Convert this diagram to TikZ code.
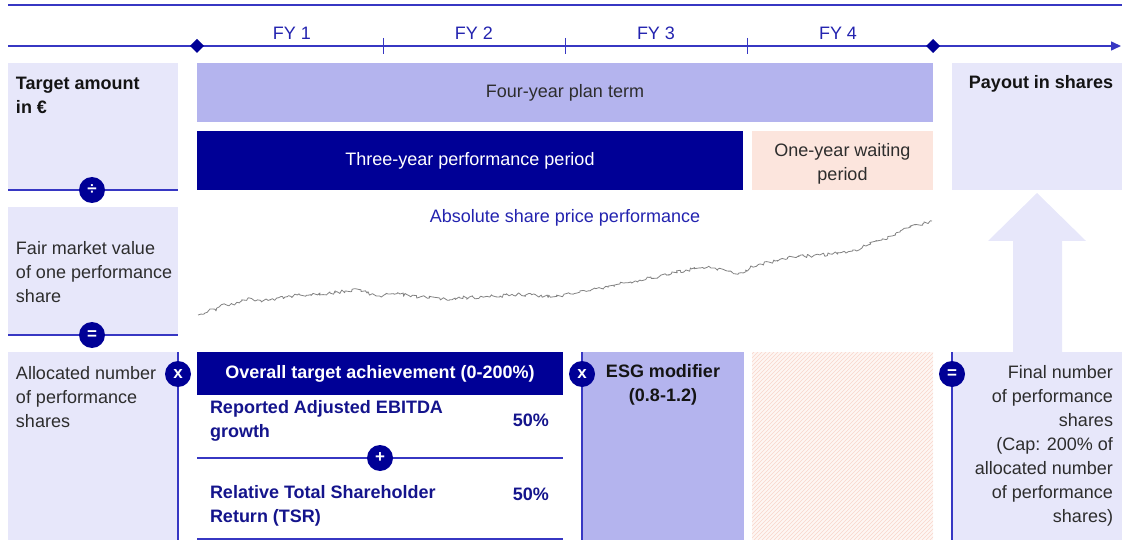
\documentclass[tikz,border=0pt]{standalone}
\usepackage{fontspec}
\setmainfont{Liberation Sans}
\usetikzlibrary{arrows.meta,shapes.geometric,decorations.pathmorphing}

\definecolor{navy}{RGB}{0,0,150}
\definecolor{rulec}{RGB}{55,55,195}
\definecolor{lavpale}{RGB}{231,231,250}
\definecolor{lavmid}{RGB}{180,180,238}
\definecolor{peach}{RGB}{252,229,221}
\definecolor{peachpale}{RGB}{254,246,243}
\definecolor{peachline}{RGB}{248,214,203}
\definecolor{fyblue}{RGB}{35,35,175}
\definecolor{txtgray}{RGB}{45,45,45}
\definecolor{txtdark}{RGB}{20,20,20}
\definecolor{kpiblue}{RGB}{20,20,140}
\definecolor{stockgray}{RGB}{130,130,130}

\begin{document}
\begin{tikzpicture}[x=1pt,y=-1pt,
  every node/.style={inner sep=0pt, outer sep=0pt, font=\fontsize{18}{24}\selectfont},
  boldtext/.style={font=\fontsize{18}{24}\selectfont\bfseries},
  rulel/.style={draw=rulec, line width=1.5pt},
  tickl/.style={draw=rulec, line width=1pt},
  fylabel/.style={text=fyblue},
  opcirc/.style={circle, fill=navy, minimum size=26pt, text=white,
    font=\fontsize{17}{17}\selectfont\bfseries},
  endmark/.style={diamond, fill=navy, minimum size=14pt},
  leftbody/.style={anchor=west, align=left, text=txtgray},
  kpi/.style={text=kpiblue, boldtext}
]
\useasboundingbox (0,0) rectangle (1122,540);

% ---------- timeline ----------
\draw[rulel] (8,5) -- (1122,5);
\coordinate (tlstart) at (8,46);
\coordinate (tlend) at (1121,46);
\draw[rulel, -{Triangle[length=10pt,width=9pt]}] (tlstart) -- (tlend);
\node[endmark] (start) at (197,46) {};
\node[endmark] (finish) at (933,46) {};
\foreach \x in {383,565,747} \draw[tickl] (\x,38) -- (\x,54);
\node[fylabel] (fy1) at (292,33) {FY 1};
\node[fylabel] (fy2) at (474,33) {FY 2};
\node[fylabel] (fy3) at (656,33) {FY 3};
\node[fylabel] (fy4) at (838,33) {FY 4};

% ---------- upper row ----------
\fill[lavpale] (8,63) rectangle (178,190);
\node[anchor=west, align=left, text=txtdark, boldtext]
  (target) at (16,95) {Target amount\\in €};
\node[fill=lavmid, minimum width=736pt, minimum height=59pt, text=txtgray]
  (plan) at (565,92.5) {Four-year plan term};
\node[fill=navy, minimum width=546pt, minimum height=59pt, text=white]
  (perf) at (470,160.5) {Three-year performance period};
\fill[peach] (752,131) rectangle (933,190);
\node[text=txtgray, align=center] (wait) at (842.5,164) {One-year waiting\\period};
\fill[lavpale] (952,63) rectangle (1122,190);
\node[text=txtdark, boldtext] (payout) at (1041,83.5) {Payout in shares};

\draw[rulel] (8,190) -- (178,190);
\node[opcirc] (divide) at (92,190) {÷};

% ---------- middle row ----------
\fill[lavpale] (8,207) rectangle (178,335);
\node[leftbody] (fmv) at (16,272) {Fair market value\\of one performance\\share};
\draw[rulel] (8,335) -- (178,335);
\node[opcirc] (equalsA) at (92,335) {=};

\node[text=fyblue] (abs) at (565,218) {Absolute share price performance};
\pgfmathsetseed{11}
\draw[stockgray, line width=0.8pt, line join=round,
  decorate, decoration={random steps, segment length=2pt, amplitude=1.8pt}]
  (198,315) -- (205,313) -- (210,309) -- (216,311) -- (220,306) -- (232,304)
  -- (240,302) -- (248,298) -- (255,301) -- (270,300) -- (285,297) -- (300,295)
  -- (315,294) -- (330,293) -- (345,291) -- (357,289) -- (367,293) -- (377,296)
  -- (390,294) -- (400,294) -- (420,297) -- (440,299) -- (460,298) -- (480,297)
  -- (500,296) -- (520,294) -- (540,296) -- (560,296) -- (580,292) -- (600,288)
  -- (620,284) -- (640,280) -- (660,276) -- (686,270) -- (700,268) -- (715,268)
  -- (727,271) -- (739,273) -- (750,268) -- (760,264) -- (775,261) -- (793,257)
  -- (810,256) -- (830,254) -- (845,252) -- (855,250) -- (868,245) -- (882,240)
  -- (892,236) -- (900,232) -- (908,228) -- (915,225) -- (924,223) -- (932,221);

% upward arrow into the payout column
\fill[lavpale] (1013,353) -- (1013,241) -- (988,241) -- (1037,193)
  -- (1086,241) -- (1062,241) -- (1062,353) -- cycle;

% ---------- lower row ----------
\fill[lavpale] (8,352) rectangle (178,540);
\node[leftbody] (alloc) at (16,397) {Allocated number\\of performance\\shares};
\draw[rulel] (178,352) -- (178,540);
\node[opcirc] (timesA) at (178,374) {x};

\node[fill=navy, minimum width=366pt, minimum height=43pt, text=white, boldtext]
  (ota) at (380,373.5) {Overall target achievement (0-200\%)};
\node[kpi, anchor=west, align=left] (ebitda) at (210,420.5) {Reported Adjusted EBITDA\\growth};
\node[kpi, anchor=east] (ebitdaw) at (549,420) {50\%};
\draw[rulel] (197,458) -- (563,458);
\node[opcirc] (plus) at (380,458) {+};
\node[kpi, anchor=west, align=left] (tsr) at (210,505.5) {Relative Total Shareholder\\Return (TSR)};
\node[kpi, anchor=east] (tsrw) at (549,494) {50\%};
\draw[rulel] (197,539) -- (563,539);

\fill[lavmid] (582,352) rectangle (744,540);
\draw[rulel] (582,352) -- (582,540);
\node[opcirc] (timesB) at (582,374) {x};
\node[align=center, text=txtdark, boldtext] (esg) at (663,385) {ESG modifier\\(0.8-1.2)};

% hatched waiting-period column
\fill[peachpale] (752,352) rectangle (933,540);
\begin{scope}
  \clip (752,352) rectangle (933,540);
  \foreach \k in {0,4,...,380}
    \draw[peachline, line width=0.6pt] (752+\k-190,540) -- ++(190,-190);
\end{scope}

\fill[lavpale] (952,352) rectangle (1122,540);
\draw[rulel] (952,352) -- (952,540);
\node[opcirc] (equalsB) at (952,374) {=};
\node[anchor=east, align=right, text=txtgray] (final) at (1113,446)
  {Final number\\of performance\\shares\\(Cap: 200\% of\\allocated number\\of performance\\shares)};
\end{tikzpicture}
\end{document}
